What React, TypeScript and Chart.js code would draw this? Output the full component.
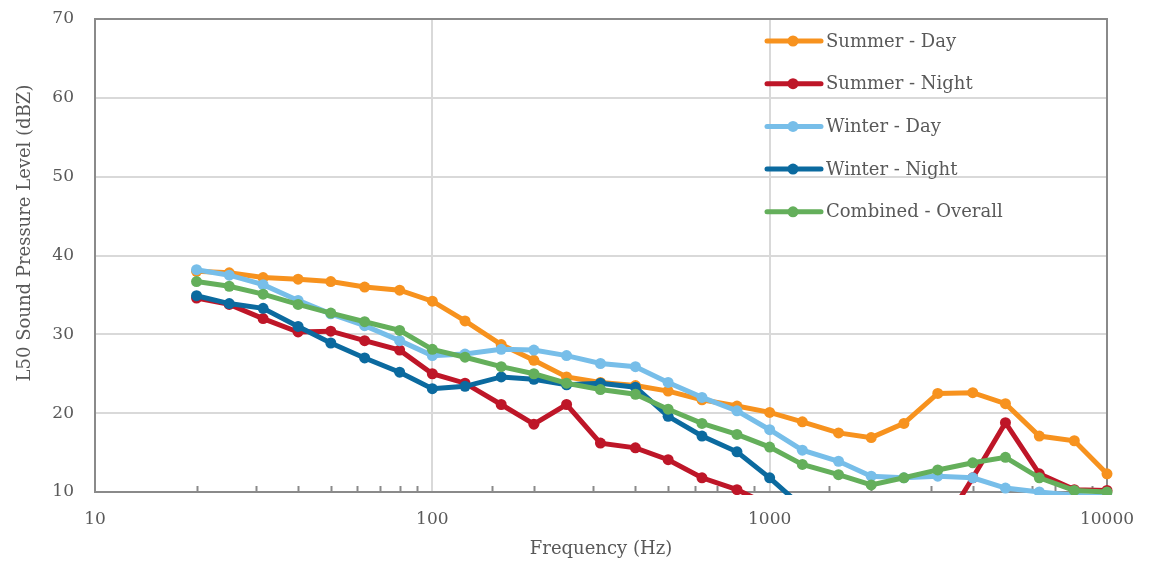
import React, { useEffect, useRef } from "react";
import { Chart, registerables } from "chart.js";

Chart.register(...registerables);

const frequencies = [20, 25, 31.5, 40, 50, 63, 80, 100, 125, 160, 200, 250, 315, 400, 500, 630, 800, 1000, 1250, 1600, 2000, 2500, 3150, 4000, 5000, 6300, 8000, 10000];

const summerDay = [38.0, 37.8, 37.2, 37.0, 36.7, 36.0, 35.6, 34.2, 31.7, 28.7, 26.7, 24.6, 23.9, 23.5, 22.8, 21.7, 20.9, 20.1, 18.9, 17.5, 16.9, 18.7, 22.5, 22.6, 21.2, 17.1, 16.5, 12.3];
const summerNight = [34.6, 33.8, 32.0, 30.3, 30.4, 29.2, 28.0, 25.0, 23.8, 21.1, 18.6, 21.1, 16.2, 15.6, 14.1, 11.8, 10.3, 8.3, 7.5, 6.8, 6.2, 5.6, 4.6, 11.8, 18.8, 12.3, 10.3, 10.2];
const winterDay = [38.2, 37.5, 36.3, 34.3, 32.6, 31.1, 29.2, 27.3, 27.5, 28.1, 28.0, 27.3, 26.3, 25.9, 23.9, 22.0, 20.3, 17.9, 15.3, 13.9, 12.0, 11.8, 12.0, 11.8, 10.5, 10.0, 9.6, 9.4];
const winterNight = [34.9, 33.9, 33.3, 31.0, 28.9, 27.0, 25.2, 23.1, 23.4, 24.6, 24.3, 23.6, 23.8, 23.3, 19.6, 17.1, 15.1, 11.8, 8.1, 7.0, 6.5, 6.0, 5.8, 5.6, 5.4, 5.2, 5.0, 4.8];
const combined = [36.7, 36.1, 35.1, 33.8, 32.7, 31.6, 30.5, 28.1, 27.1, 25.9, 25.0, 23.8, 23.0, 22.4, 20.5, 18.7, 17.3, 15.7, 13.5, 12.2, 10.9, 11.8, 12.8, 13.7, 14.4, 11.8, 10.2, 10.0];

const seriesNames = ["Summer - Day", "Summer - Night", "Winter - Day", "Winter - Night", "Combined - Overall"];
const seriesColors = ["#F7921E", "#BE1628", "#77BEE9", "#0B6A9F", "#64AF5B"];
const seriesValues = [summerDay, summerNight, winterDay, winterNight, combined];

const xTitle = "Frequency (Hz)";
const yTitle = "L50 Sound Pressure Level (dBZ)";
const xMin = 10;
const xMax = 10000;
const yMin = 10;
const yMax = 70;
const yStep = 10;

const FONT = "'DejaVu Serif', serif";
const TEXT = "#595959";
const GRID = "#D9D9D9";
const AXIS = "#8A8A8A";

const decorPlugin = {
  id: "decor",
  beforeDatasetsDraw(chart: any) {
    const { ctx, chartArea } = chart;
    const xs = chart.scales.x;
    ctx.save();
    ctx.strokeStyle = AXIS;
    ctx.lineWidth = 2;
    for (const t of xs.ticks) {
      const v = t.value;
      const lg = Math.log10(v);
      if (Math.abs(lg - Math.round(lg)) < 1e-9) continue;
      const px = Math.round(xs.getPixelForValue(v)) + 0.5;
      ctx.beginPath();
      ctx.moveTo(px, chartArea.bottom);
      ctx.lineTo(px, chartArea.bottom - 6);
      ctx.stroke();
    }
    ctx.strokeStyle = AXIS;
    ctx.lineWidth = 2;
    ctx.strokeRect(chartArea.left, chartArea.top, chartArea.right - chartArea.left, chartArea.bottom - chartArea.top);
    ctx.restore();
  },
  afterDraw(chart: any) {
    const { ctx, chartArea } = chart;
    ctx.save();
    ctx.fillStyle = TEXT;
    ctx.font = `18px ${FONT}`;
    ctx.textAlign = "center";
    ctx.textBaseline = "middle";
    ctx.fillText(xTitle, (chartArea.left + chartArea.right) / 2, 549);
    ctx.translate(25, 233);
    ctx.rotate(-Math.PI / 2);
    ctx.fillText(yTitle, 0, 0);
    ctx.restore();

    ctx.save();
    ctx.font = `18px ${FONT}`;
    ctx.textBaseline = "middle";
    ctx.textAlign = "left";
    chart.data.datasets.forEach((ds: any, i: number) => {
      const y = 41 + i * 42.7;
      ctx.strokeStyle = ds.borderColor;
      ctx.lineWidth = 5;
      ctx.lineCap = "round";
      ctx.beginPath();
      ctx.moveTo(767, y);
      ctx.lineTo(821, y);
      ctx.stroke();
      ctx.fillStyle = ds.borderColor;
      ctx.beginPath();
      ctx.arc(793, y, 5.5, 0, Math.PI * 2);
      ctx.fill();
      ctx.fillStyle = TEXT;
      ctx.fillText(ds.label, 826, y + 1);
    });
    ctx.restore();
  },
};

export default function App() {
  const ref = useRef<HTMLCanvasElement | null>(null);

  useEffect(() => {
    if (!ref.current) return;
    const datasets = seriesNames.map((name, i) => ({
      label: name,
      data: frequencies.map((f, j) => ({ x: f, y: seriesValues[i][j] })),
      borderColor: seriesColors[i],
      backgroundColor: seriesColors[i],
      pointBackgroundColor: seriesColors[i],
      pointBorderColor: seriesColors[i],
      borderWidth: 5,
      pointRadius: 5.5,
      pointBorderWidth: 0,
      tension: 0,
      order: seriesNames.length - i,
      clip: { left: 10, top: 10, right: 10, bottom: 3 },
    }));

    const chart = new Chart(ref.current, {
      type: "line",
      data: { datasets },
      options: {
        responsive: false,
        animation: false,
        layout: { padding: { top: 19, right: 47, left: 0, bottom: 0 } },
        plugins: { legend: { display: false }, tooltip: { enabled: false } },
        scales: {
          x: {
            type: "logarithmic",
            min: xMin,
            max: xMax,
            afterFit(scale: any) {
              scale.height = 75;
              scale.paddingLeft = 0;
              scale.paddingRight = 0;
            },
            border: { display: false },
            grid: {
              drawTicks: false,
              lineWidth: 2,
              color: (c: any) => {
                const v = c.tick ? c.tick.value : 0;
                const lg = Math.log10(v);
                return Math.abs(lg - Math.round(lg)) < 1e-9 ? GRID : "rgba(0,0,0,0)";
              },
            },
            ticks: {
              autoSkip: false,
              maxRotation: 0,
              padding: 17,
              color: TEXT,
              font: { family: FONT, size: 17 },
              callback: (v: any) => {
                const lg = Math.log10(Number(v));
                return Math.abs(lg - Math.round(lg)) < 1e-9 ? String(v) : "";
              },
            },
          },
          y: {
            min: yMin,
            max: yMax,
            afterFit(scale: any) {
              scale.width = 95;
              scale.paddingTop = 0;
              scale.paddingBottom = 0;
            },
            border: { display: false },
            grid: { drawTicks: false, color: GRID, lineWidth: 2 },
            ticks: {
              stepSize: yStep,
              padding: 21,
              color: TEXT,
              font: { family: FONT, size: 17 },
            },
          },
        },
      },
      plugins: [decorPlugin],
    } as any);
    return () => chart.destroy();
  }, []);

  return (
    <div style={{ position: "fixed", left: 0, top: 0, width: 1154, height: 567, background: "#fff" }}>
      <canvas ref={ref} width={1154} height={567} style={{ width: 1154, height: 567, display: "block" }} />
    </div>
  );
}
